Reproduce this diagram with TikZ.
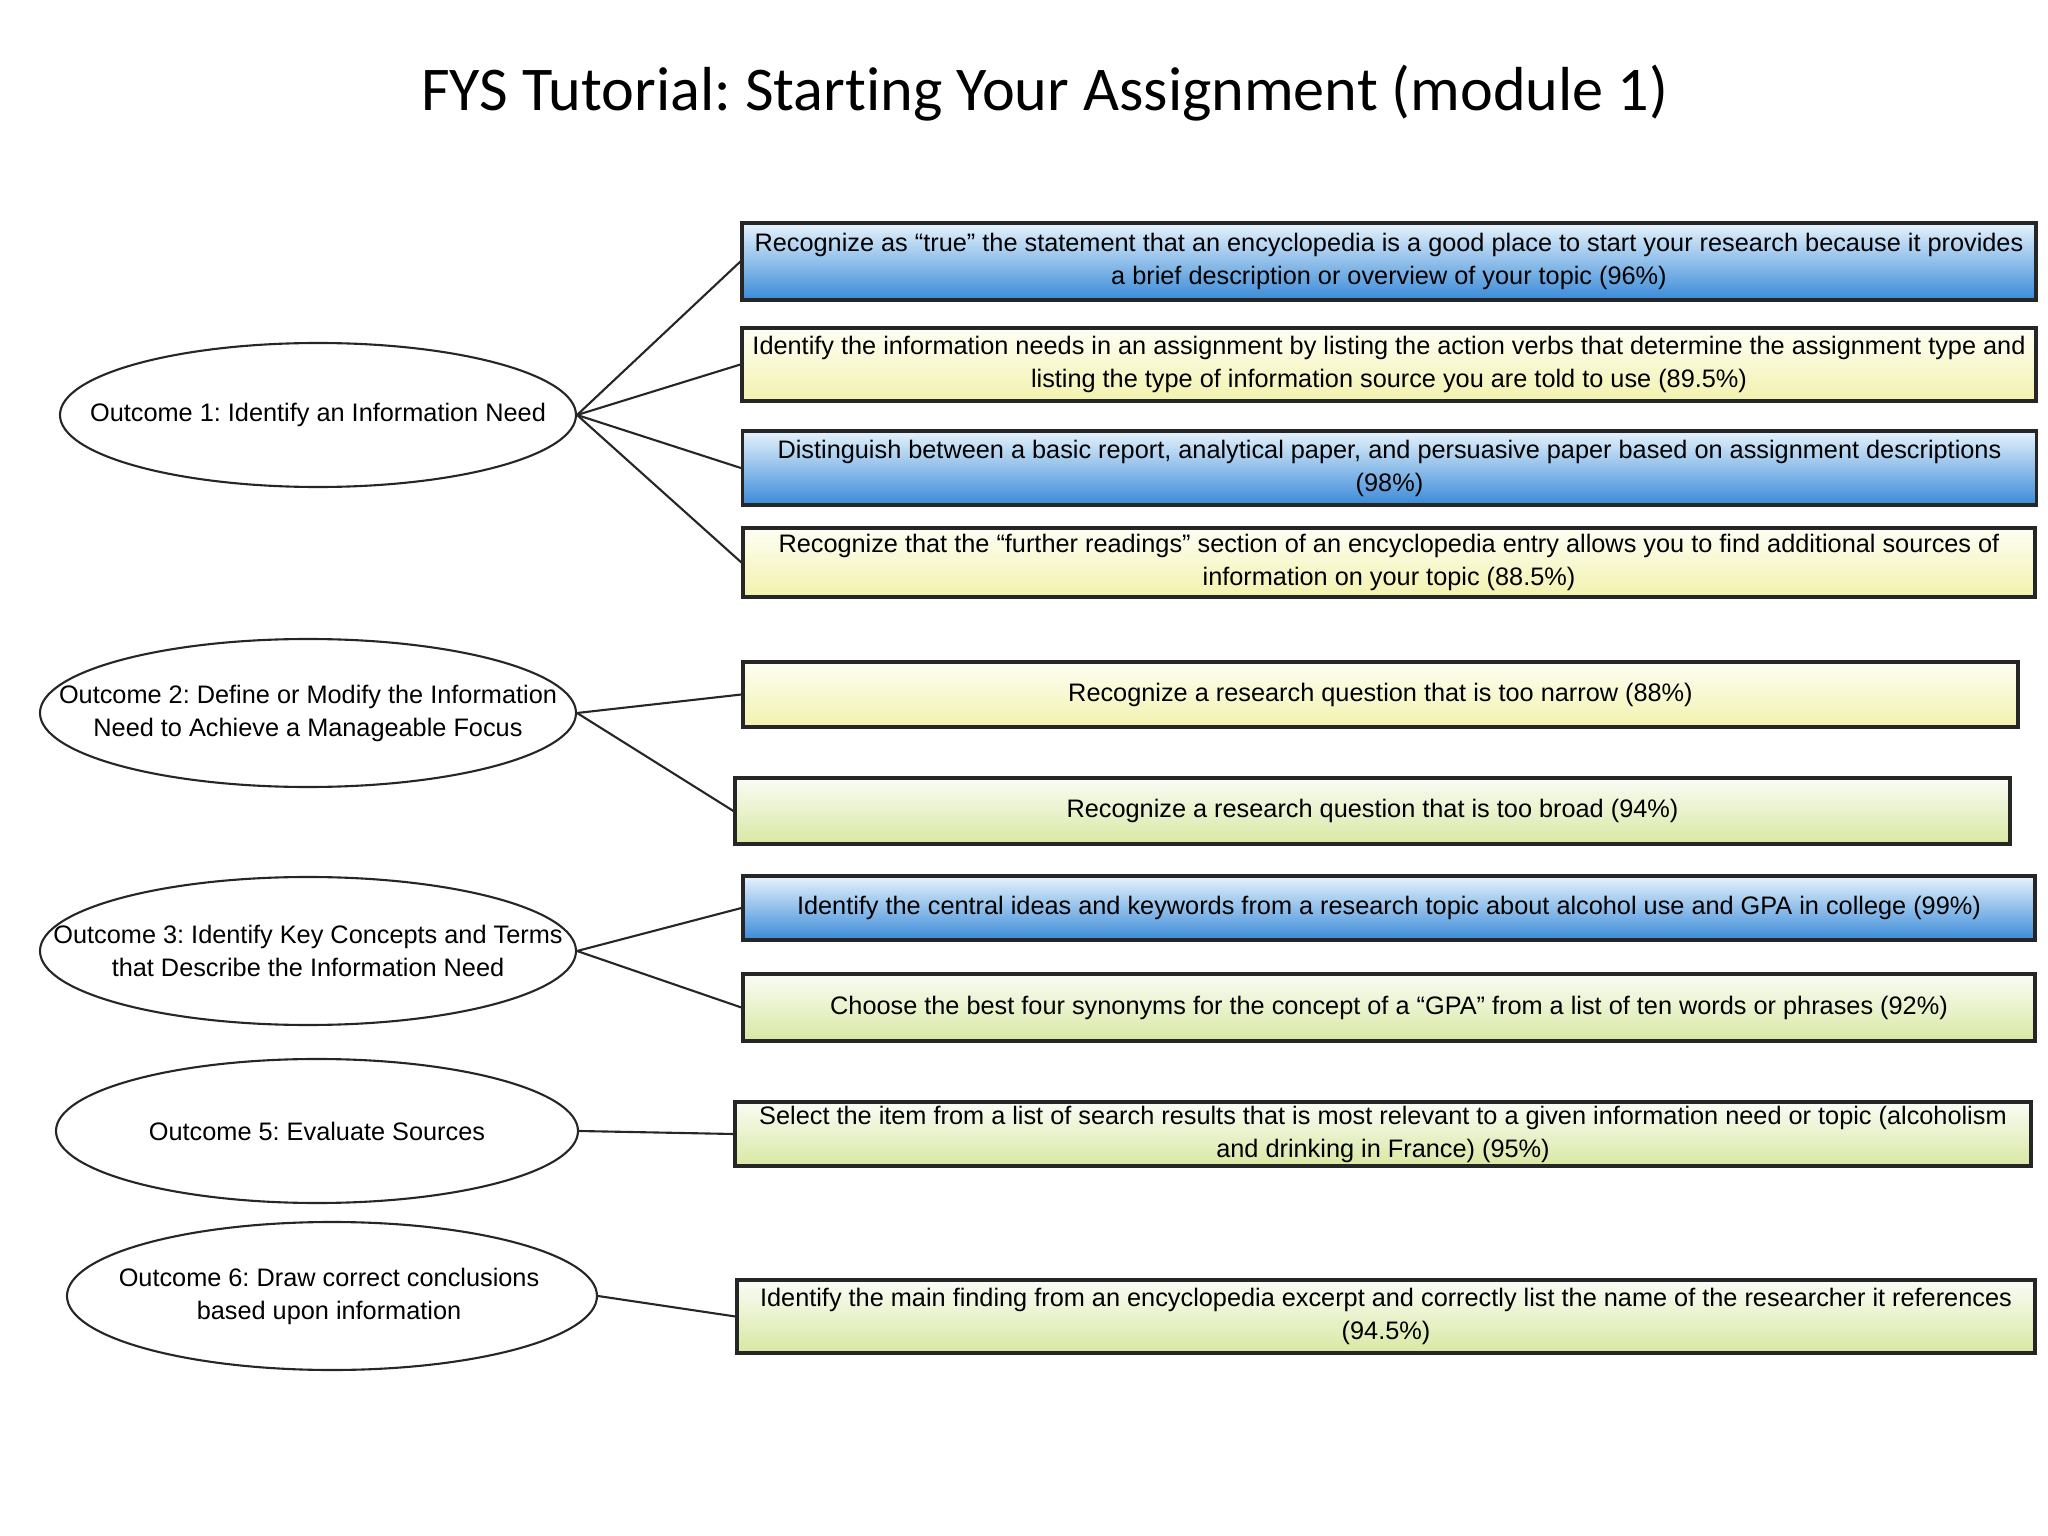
\documentclass[tikz,border=0pt]{standalone}
\usepackage{fontspec}
\setmainfont{Liberation Sans}
\newfontfamily\titlefont[Ligatures=NoCommon]{Carlito}
\usepackage{tikz}
\usetikzlibrary{shapes.geometric}
\definecolor{blueTop}{HTML}{E6F3FC}
\definecolor{blueMid}{HTML}{86C3EF}
\definecolor{blueBot}{HTML}{3A8AD8}
\definecolor{yellowTop}{HTML}{FEFEF4}
\definecolor{yellowBot}{HTML}{F2F2AE}
\definecolor{greenTop}{HTML}{FAFCF6}
\definecolor{greenBot}{HTML}{D8E8A2}
\frenchspacing

\begin{document}
\begin{tikzpicture}[
    txt/.style={font=\fontsize{7.2}{9.4}\selectfont, align=center, inner sep=0pt},
    task/.style={txt, draw=black!85, line width=0.9pt, minimum width=12.94cm},
    bluetask/.style={task, top color=blueTop, middle color=blueMid, bottom color=blueBot},
    yellowtask/.style={task, top color=yellowTop, bottom color=yellowBot},
    greentask/.style={task, top color=greenTop, bottom color=greenBot},
    outcome/.style={ellipse, draw=black!85, line width=0.6pt, inner sep=0pt},
    link/.style={draw=black!85, line width=0.6pt}
  ]
  \useasboundingbox (0,0) rectangle (20.48,-15.36);

  % title
  \node[font=\titlefont\fontsize{17.7}{21}\selectfont] (title) at (10.45,-0.93)
    {FYS Tutorial: Starting Your Assignment (module 1)};

  % outcomes
  \node[outcome, minimum width=5.16cm, minimum height=1.44cm] (e1) at (3.18,-4.15) {};
  \node[outcome, minimum width=5.36cm, minimum height=1.48cm] (e2) at (3.08,-7.13) {};
  \node[outcome, minimum width=5.36cm, minimum height=1.48cm] (e3) at (3.08,-9.51) {};
  \node[outcome, minimum width=5.22cm, minimum height=1.44cm] (e5) at (3.17,-11.31) {};
  \node[outcome, minimum width=5.30cm, minimum height=1.48cm] (e6) at (3.32,-12.96) {};

  \node[txt] (t1) at (e1) {Outcome 1: Identify an Information Need};
  \node[txt] (t2) at (e2) {Outcome 2: Define or Modify the Information\\Need to Achieve a Manageable Focus};
  \node[txt] (t3) at (e3) {Outcome 3: Identify Key Concepts and Terms\\that Describe the Information Need};
  \node[txt] (t5) at (e5) {Outcome 5: Evaluate Sources};
  \node[txt] (t6) at ([xshift=-0.03cm]e6) {Outcome 6: Draw correct conclusions\\based upon information};

  % tasks
  \node[bluetask, minimum height=0.77cm] (b1) at (13.89,-2.615)
    {Recognize as ``true'' the statement that an encyclopedia is a good place to start your research because it provides\\a brief description or overview of your topic (96\%)};
  \node[yellowtask, minimum height=0.73cm] (b2) at (13.89,-3.645)
    {Identify the information needs in an assignment by listing the action verbs that determine the assignment type and\\listing the type of information source you are told to use (89.5\%)};
  \node[bluetask, minimum height=0.74cm] (b3) at (13.895,-4.68)
    {Distinguish between a basic report, analytical paper, and persuasive paper based on assignment descriptions\\(98\%)};
  \node[yellowtask, minimum height=0.69cm, minimum width=12.92cm] (b4) at (13.89,-5.625)
    {Recognize that the ``further readings'' section of an encyclopedia entry allows you to find additional sources of\\information on your topic (88.5\%)};
  \node[yellowtask, minimum height=0.65cm, minimum width=12.75cm] (b5) at (13.805,-6.945)
    {Recognize a research question that is too narrow (88\%)};
  \node[greentask, minimum height=0.66cm, minimum width=12.75cm] (b6) at (13.725,-8.11)
    {Recognize a research question that is too broad (94\%)};
  \node[bluetask, minimum height=0.64cm, minimum width=12.92cm] (b7) at (13.89,-9.08)
    {Identify the central ideas and keywords from a research topic about alcohol use and GPA in college (99\%)};
  \node[greentask, minimum height=0.67cm, minimum width=12.92cm] (b8) at (13.89,-10.075)
    {Choose the best four synonyms for the concept of a ``GPA'' from a list of ten words or phrases (92\%)};
  \node[greentask, minimum height=0.64cm, minimum width=12.96cm] (b9) at (13.83,-11.34)
    {Select the item from a list of search results that is most relevant to a given information need or topic (alcoholism\\and drinking in France) (95\%)};
  \node[greentask, minimum height=0.73cm, minimum width=12.98cm] (b10) at (13.86,-13.165)
    {Identify the main finding from an encyclopedia excerpt and correctly list the name of the researcher it references\\(94.5\%)};

  % links
  \foreach \src/\dst in {e1/b1, e1/b2, e1/b3, e1/b4, e2/b5, e2/b6, e3/b7, e3/b8, e5/b9, e6/b10}
    \draw[link] (\src.east) -- (\dst.west);
\end{tikzpicture}
\end{document}
